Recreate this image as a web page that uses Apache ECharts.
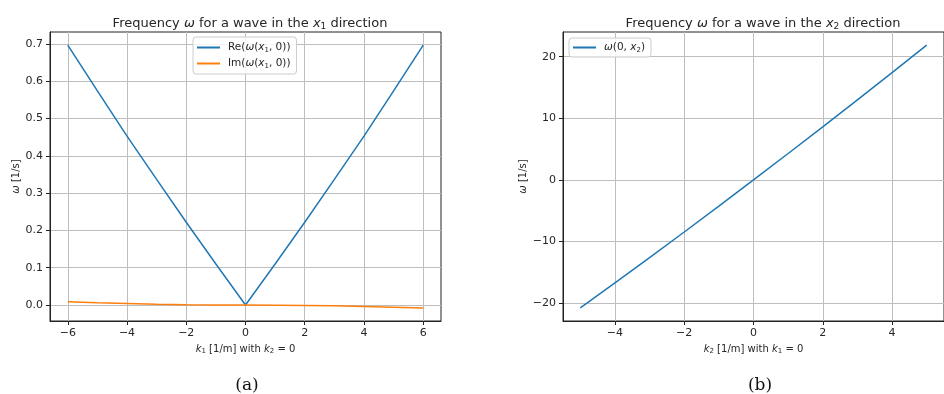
<!DOCTYPE html>
<html>
<head>
<meta charset="utf-8">
<script src="https://cdn.jsdelivr.net/npm/echarts@6/dist/echarts.min.js"></script>
<style>
  html, body { margin: 0; padding: 0; background: #fff; }
  #chart { width: 944px; height: 394px; }
</style>
</head>
<body>
<div id="chart"></div>
<script>
// data
const k1 = [-6, -5, -4, -3, -2, -1, 0, 1, 2, 3, 4, 5, 6];
const reOmega = [0.697, 0.574, 0.453, 0.337, 0.222, 0.110, 0, 0.110, 0.222, 0.337, 0.453, 0.574, 0.697];
const imOmega = [0.009, 0.006, 0.004, 0.002, 0.001, 0.0003, 0, -0.0003, -0.001, -0.002, -0.004, -0.006, -0.008];
const k2 = [-5, -4, -3, -2, -1, 0, 1, 2, 3, 4, 5];
const omega2 = [-20.75, -16.69, -12.59, -8.44, -4.24, 0, 4.29, 8.62, 12.99, 17.41, 21.88];

// tick labels
const ticksK1 = [-6, -4, -2, 0, 2, 4, 6];
const ticksA = [0, 0.1, 0.2, 0.3, 0.4, 0.5, 0.6, 0.7];
const ticksK2 = [-4, -2, 0, 2, 4];
const ticksB = [-20, -10, 0, 10, 20];

const FONT = 'DejaVu Sans';
const INK = '#262626';
const BLUE = '#1f77b4';
const ORANGE = '#ff7f0e';

const zip = (xs, ys) => xs.map((x, i) => [x, ys[i]]);
const minus = v => (v < 0 ? '\u2212' + Math.abs(v) : String(v));

// math-ish rich styles
const mathRich = size => ({
  n: { fontFamily: FONT, fontSize: size, color: INK },
  i: { fontFamily: FONT, fontSize: size, fontStyle: 'italic', color: INK },
  s: { fontFamily: FONT, fontSize: Math.round(size * 0.7), color: INK, padding: [Math.round(size * 0.45), 0, 0, 0] }
});

function valueAxis(idx, min, max, ticks, fmt, extra) {
  return Object.assign({
    type: 'value',
    gridIndex: idx,
    min: min,
    max: max,
    axisLine: { show: true, onZero: false, lineStyle: { color: '#222', width: 1 } },
    axisTick: { show: true, inside: false, length: 4, customValues: ticks, lineStyle: { color: '#222', width: 1 } },
    axisLabel: { customValues: ticks, formatter: fmt, fontFamily: FONT, fontSize: 11, color: INK, margin: 7 },
    splitLine: { show: true, lineStyle: { color: '#bdbdbd', width: 1 } }
  }, extra);
}

const chart = echarts.init(document.getElementById('chart'), null, { renderer: 'canvas' });

const option = {
  animation: false,
  backgroundColor: '#fff',
  title: [
    {
      text: 'Frequency {i|ω} for a wave in the {i|x}{s|1} direction',
      left: 245, top: 11, textAlign: 'center',
      textStyle: { fontFamily: FONT, fontSize: 13, fontWeight: 'normal', color: INK, rich: mathRich(13) }
    },
    {
      text: 'Frequency {i|ω} for a wave in the {i|x}{s|2} direction',
      left: 758, top: 11, textAlign: 'center',
      textStyle: { fontFamily: FONT, fontSize: 13, fontWeight: 'normal', color: INK, rich: mathRich(13) }
    },
    {
      text: '(a)', left: 242, top: 372, textAlign: 'center',
      textStyle: { fontFamily: 'DejaVu Serif', fontSize: 17, fontWeight: 'normal', color: '#111' }
    },
    {
      text: '(b)', left: 755, top: 372, textAlign: 'center',
      textStyle: { fontFamily: 'DejaVu Serif', fontSize: 17, fontWeight: 'normal', color: '#111' }
    }
  ],
  grid: [
    { left: 50, top: 32, width: 391, height: 289, show: true, borderColor: '#222', borderWidth: 1, backgroundColor: 'transparent' },
    { left: 563, top: 32, width: 391, height: 289, show: true, borderColor: '#222', borderWidth: 1, backgroundColor: 'transparent' }
  ],
  legend: [
    {
      left: 193, top: 37, orient: 'vertical',
      data: ['re', 'im'],
      icon: 'rect', itemWidth: 23, itemHeight: 2, itemGap: 3,
      padding: [4, 6, 4, 4],
      borderColor: '#cccccc', borderWidth: 1, borderRadius: 3,
      backgroundColor: 'rgba(255,255,255,0.85)',
      textStyle: { fontFamily: FONT, fontSize: 10.5, color: INK, lineHeight: 13, padding: [0, 0, 0, 3], rich: mathRich(10.5) },
      formatter: name => name === 're'
        ? 'Re({i|ω}({i|x}{s|1}, 0))'
        : 'Im({i|ω}({i|x}{s|1}, 0))'
    },
    {
      left: 569, top: 38, orient: 'vertical',
      data: ['w'],
      icon: 'rect', itemWidth: 23, itemHeight: 2,
      padding: [3, 6, 3, 4],
      borderColor: '#cccccc', borderWidth: 1, borderRadius: 3,
      backgroundColor: 'rgba(255,255,255,0.85)',
      textStyle: { fontFamily: FONT, fontSize: 10.5, color: INK, lineHeight: 13, padding: [0, 0, 0, 3], rich: mathRich(10.5) },
      formatter: () => '{i|ω}(0, {i|x}{s|2})'
    }
  ],
  xAxis: [
    valueAxis(0, -6.6, 6.6, ticksK1, minus, {
      name: '{i|k}{s|1} [1/m] with {i|k}{s|2} = 0',
      nameLocation: 'middle', nameGap: 22,
      nameTextStyle: { fontFamily: FONT, fontSize: 10, color: INK, rich: mathRich(10) }
    }),
    valueAxis(1, -5.5, 5.5, ticksK2, minus, {
      name: '{i|k}{s|2} [1/m] with {i|k}{s|1} = 0',
      nameLocation: 'middle', nameGap: 22,
      nameTextStyle: { fontFamily: FONT, fontSize: 10, color: INK, rich: mathRich(10) }
    })
  ],
  yAxis: [
    valueAxis(0, -0.0428, 0.732, ticksA, v => v.toFixed(1), {
      name: '{i|ω} [1/s]',
      nameLocation: 'middle', nameRotate: 90, nameGap: 23,
      nameTextStyle: { fontFamily: FONT, fontSize: 10, color: INK, rich: mathRich(10) }
    }),
    valueAxis(1, -22.88, 24.0, ticksB, minus, {
      name: '{i|ω} [1/s]',
      nameLocation: 'middle', nameRotate: 90, nameGap: 35,
      nameTextStyle: { fontFamily: FONT, fontSize: 10, color: INK, rich: mathRich(10) }
    })
  ],
  series: [
    {
      name: 're', type: 'line', xAxisIndex: 0, yAxisIndex: 0,
      data: zip(k1, reOmega), showSymbol: false, symbol: 'none',
      color: BLUE, lineStyle: { color: BLUE, width: 1.5 }
    },
    {
      name: 'im', type: 'line', xAxisIndex: 0, yAxisIndex: 0,
      data: zip(k1, imOmega), showSymbol: false, symbol: 'none',
      color: ORANGE, lineStyle: { color: ORANGE, width: 1.5 }
    },
    {
      name: 'w', type: 'line', xAxisIndex: 1, yAxisIndex: 1,
      data: zip(k2, omega2), showSymbol: false, symbol: 'none',
      color: BLUE, lineStyle: { color: BLUE, width: 1.5 }
    }
  ]
};

chart.setOption(option);
</script>
</body>
</html>
